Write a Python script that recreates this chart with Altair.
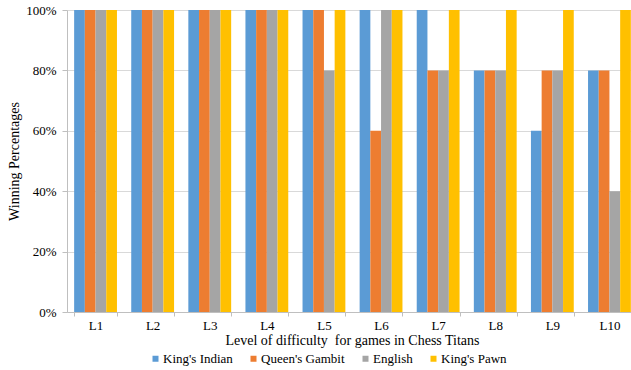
import altair as alt
import pandas as pd

levels = ["L1", "L2", "L3", "L4", "L5", "L6", "L7", "L8", "L9", "L10"]
series = ["King's Indian", "Queen's Gambit", "English", "King's Pawn"]
kings_indian = [1.0, 1.0, 1.0, 1.0, 1.0, 1.0, 1.0, 0.8, 0.6, 0.8]
queens_gambit = [1.0, 1.0, 1.0, 1.0, 1.0, 0.6, 0.8, 0.8, 0.8, 0.8]
english = [1.0, 1.0, 1.0, 1.0, 0.8, 1.0, 0.8, 0.8, 0.8, 0.4]
kings_pawn = [1.0, 1.0, 1.0, 1.0, 1.0, 1.0, 1.0, 1.0, 1.0, 1.0]
colors = ["#5B9BD5", "#ED7D31", "#A5A5A5", "#FFC000"]

rows = []
for s, vals in zip(series, [kings_indian, queens_gambit, english, kings_pawn]):
    for lv, v in zip(levels, vals):
        rows.append({"level": lv, "series": s, "value": v})
df = pd.DataFrame(rows)

font = "Liberation Serif"

chart = alt.Chart(df).mark_bar().encode(
    x=alt.X("level:N", sort=levels,
            scale=alt.Scale(paddingInner=0.25, paddingOuter=0.125, range=[0, 571]),
            axis=alt.Axis(title="Level of difficulty\u00a0 for games in Chess Titans",
                          labelAngle=0, tickBand="extent", labelPadding=3,
                          tickSize=4, titlePadding=1, titleX=285)),
    xOffset=alt.XOffset("series:N", sort=series, scale=alt.Scale(paddingInner=0, paddingOuter=0)),
    y=alt.Y("value:Q", scale=alt.Scale(domain=[0, 1], nice=False),
            axis=alt.Axis(format="%", values=[0, 0.2, 0.4, 0.6, 0.8, 1.0],
                          title="Winning Percentages", titlePadding=4,
                          labelPadding=6, tickSize=5)),
    color=alt.Color("series:N", sort=series,
                    scale=alt.Scale(domain=series, range=colors),
                    legend=alt.Legend(title=None, orient="none", direction="horizontal",
                                      legendX=82, legendY=342, columns=4,
                                      symbolType="square", symbolSize=36,
                                      symbolStrokeWidth=0, labelFontSize=13,
                                      labelFont=font, columnPadding=14,
                                      symbolOffset=0, labelOffset=1, padding=0)),
).properties(
    width=564, height=302,
    autosize="none",
    padding={"left": 67, "top": 10, "right": 0, "bottom": 58},
).configure(font=font).configure_view(stroke=None).configure_axis(
    labelFont=font, titleFont=font, labelFontSize=13, titleFontSize=14,
    titleFontWeight="normal", labelColor="#000000", titleColor="#000000",
    domainColor="#BFBFBF", tickColor="#BFBFBF", gridColor="#D9D9D9",
).configure_axisX(grid=False).configure_axisY(grid=True).configure_legend(
    labelFont=font, labelColor="#000000"
)

chart.save("out.html", embed_options={"renderer": "svg", "actions": False})
